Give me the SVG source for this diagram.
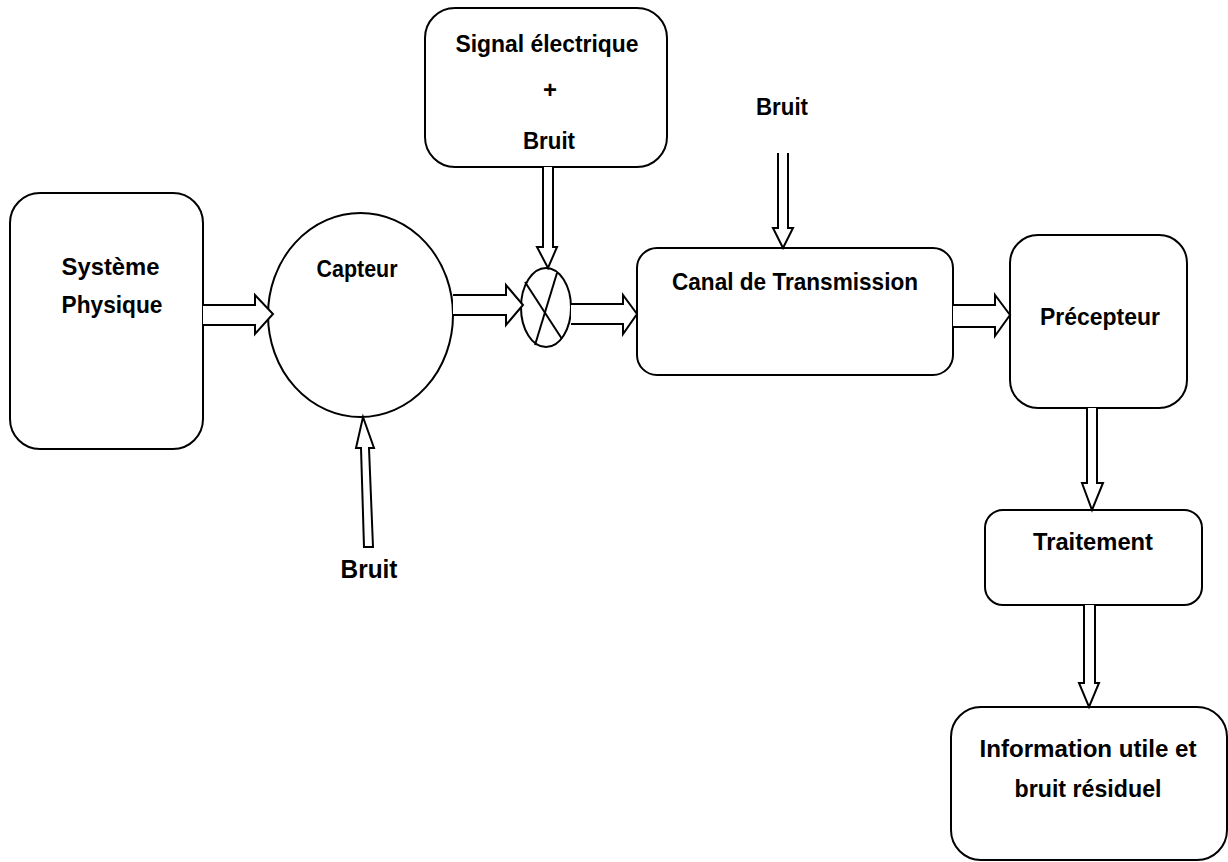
<svg xmlns="http://www.w3.org/2000/svg" width="1228" height="862" viewBox="0 0 1228 862">
  <style>
    .box { fill: #ffffff; stroke: #000000; stroke-width: 2; }
    .conn { fill: #ffffff; stroke: #000000; stroke-width: 2; stroke-linejoin: miter; }
    .lbl { font-family: "Liberation Sans", Arial, sans-serif; font-weight: bold; font-size: 24px; fill: #000000; text-anchor: middle; }
  </style>
  <rect x="0" y="0" width="1228" height="862" fill="#ffffff"/>

  <!-- nodes -->
  <g id="systeme-physique">
    <rect class="box" x="10" y="193" width="193" height="256" rx="30" ry="30"/>
    <text class="lbl" x="110.5" y="275" textLength="98" lengthAdjust="spacingAndGlyphs">Système</text>
    <text class="lbl" x="112" y="313" textLength="101" lengthAdjust="spacingAndGlyphs">Physique</text>
  </g>

  <g id="capteur">
    <ellipse class="box" cx="360.5" cy="315" rx="92.5" ry="102"/>
    <text class="lbl" x="357" y="277" textLength="81" lengthAdjust="spacingAndGlyphs">Capteur</text>
  </g>

  <g id="signal-bruit">
    <rect class="box" x="425" y="8" width="242" height="159" rx="30" ry="30"/>
    <text class="lbl" x="547" y="52" textLength="183" lengthAdjust="spacingAndGlyphs">Signal électrique</text>
    <text class="lbl" x="550" y="98">+</text>
    <text class="lbl" x="549" y="149" textLength="52" lengthAdjust="spacingAndGlyphs">Bruit</text>
  </g>

  <g id="multiplieur">
    <ellipse class="box" cx="546" cy="307.5" rx="25" ry="39.5"/>
    <line x1="525" y1="282" x2="562" y2="339" stroke="#000" stroke-width="2"/>
    <line x1="557" y1="273" x2="535" y2="345" stroke="#000" stroke-width="2"/>
  </g>

  <g id="bruit-canal">
    <text class="lbl" x="782" y="115" textLength="52" lengthAdjust="spacingAndGlyphs">Bruit</text>
  </g>

  <g id="canal">
    <rect class="box" x="637" y="248" width="316" height="127" rx="20" ry="20"/>
    <text class="lbl" x="795" y="290" textLength="246" lengthAdjust="spacingAndGlyphs">Canal de Transmission</text>
  </g>

  <g id="precepteur">
    <rect class="box" x="1010" y="235" width="177" height="173" rx="28" ry="28"/>
    <text class="lbl" x="1100" y="325" textLength="120" lengthAdjust="spacingAndGlyphs">Précepteur</text>
  </g>

  <g id="traitement">
    <rect class="box" x="985" y="510" width="217" height="95" rx="18" ry="18"/>
    <text class="lbl" x="1093" y="550" textLength="120" lengthAdjust="spacingAndGlyphs">Traitement</text>
  </g>

  <g id="information">
    <rect class="box" x="951" y="707" width="276" height="153" rx="30" ry="30"/>
    <text class="lbl" x="1088" y="757" textLength="217" lengthAdjust="spacingAndGlyphs">Information utile et</text>
    <text class="lbl" x="1088" y="797" textLength="147" lengthAdjust="spacingAndGlyphs">bruit résiduel</text>
  </g>

  <g id="bruit-capteur">
    <text class="lbl" x="369" y="578" style="font-size:26px" textLength="57" lengthAdjust="spacingAndGlyphs">Bruit</text>
  </g>

  <!-- block arrows -->
  <g id="connectors">
    <!-- Système Physique to Capteur -->
    <path class="conn" d="M203,305 L255,305 L255,295 L273,314 L255,334 L255,325 L203,325"/>
    <!-- Capteur to multiplieur -->
    <path class="conn" d="M453,295 L506,295 L506,285 L523,305 L506,325 L506,315 L453,315"/>
    <!-- Signal + Bruit down to multiplieur -->
    <path class="conn" d="M543,167 L543,247 L537,247 L548,268 L557,247 L553,247 L553,167"/>
    <!-- multiplieur to Canal -->
    <path class="conn" d="M571,304 L623,304 L623,295 L637,314 L623,334 L623,324 L571,324"/>
    <!-- Bruit down to Canal -->
    <path class="conn" d="M778,153 L778,228 L773,228 L783,248 L793,228 L788,228 L788,153"/>
    <!-- Canal to Précepteur -->
    <path class="conn" d="M953,305 L995,305 L995,295 L1010,315 L995,336 L995,327 L953,327"/>
    <!-- Précepteur to Traitement -->
    <path class="conn" d="M1087,408 L1087,483 L1082,483 L1092,510 L1103,483 L1097,483 L1097,408"/>
    <!-- Traitement to Information -->
    <path class="conn" d="M1084,605 L1084,683 L1079,683 L1089,707 L1099,683 L1095,683 L1095,605"/>
    <!-- Bruit up into Capteur -->
    <path class="conn" d="M364,547 L361,448 L356,448 L363,417 L374,448 L369,448 L373,547 Z"/>
  </g>
</svg>
